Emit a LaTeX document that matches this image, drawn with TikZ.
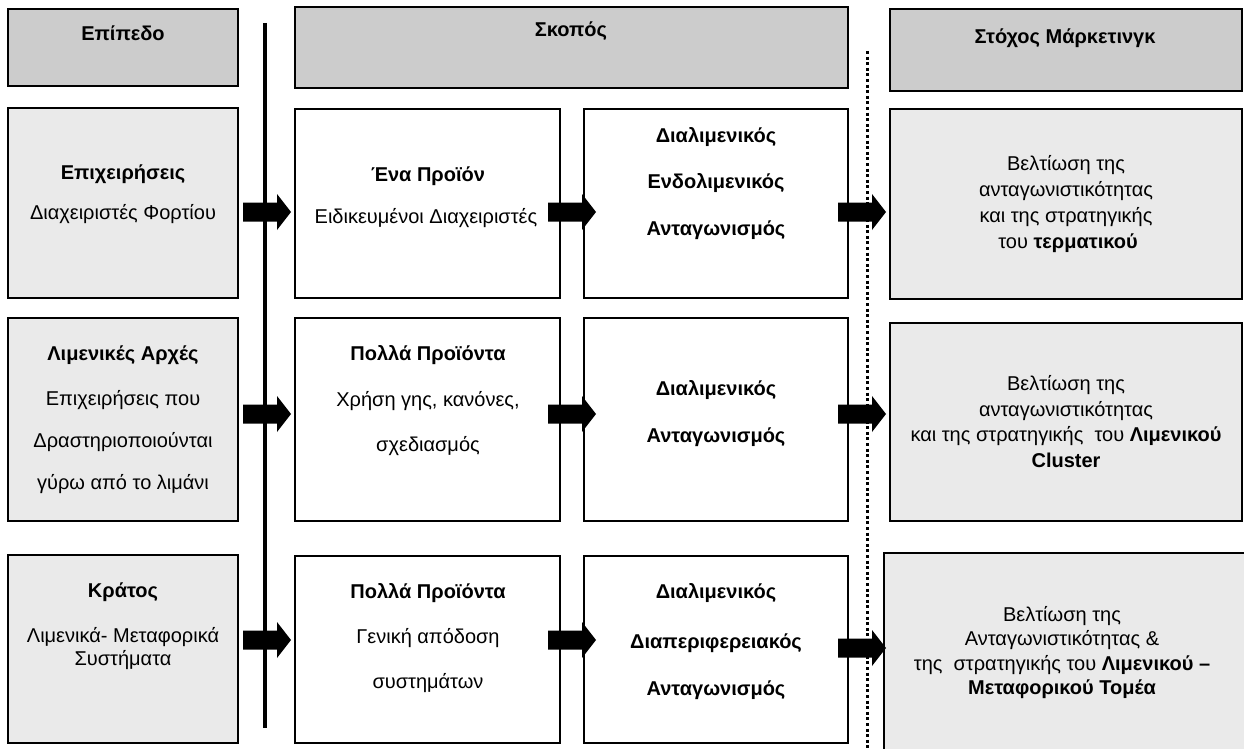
\documentclass[tikz,border=0pt]{standalone}
\usepackage{fontspec}
\setmainfont{Liberation Sans}
\definecolor{headgray}{HTML}{CCCCCC}
\definecolor{panelgray}{HTML}{EAEAEA}
\tikzset{
  x=1pt, y=-1pt,
  panel/.style={draw=black, line width=1.8pt, inner sep=0pt, outer sep=0pt},
  headbox/.style={panel, fill=headgray},
  greybox/.style={panel, fill=panelgray},
  whitebox/.style={panel, fill=white},
  txt/.style={inner sep=0pt, font=\fontsize{20}{23}\selectfont},
  btxt/.style={txt, font=\fontsize{20}{23}\selectfont\bfseries},
  divider/.style={line width=3.2pt},
  dotdivider/.style={line width=3pt, dash pattern=on 3pt off 2.6pt},
  pics/blockarrow/.style={code={
    \fill[black] (-24,-9.5) -- (10,-9.5) -- (10,-18) -- (24,0) -- (10,18)
                 -- (10,9.5) -- (-24,9.5) -- cycle;}}
}
% \panel{name}{style}{x1}{y1}{x2}{y2}
\newcommand\panel[6]{%
  \node[#2, minimum width={(#5-#3)*1pt}, minimum height={(#6-#4)*1pt}]
    (#1) at ({(#3+#5)/2},{(#4+#6)/2}) {};}
\begin{document}
\begin{tikzpicture}
\useasboundingbox (0,0) rectangle (1244,749);

% header row
\panel{hlevel}{headbox}{8}{9}{238}{86}
\panel{haim}{headbox}{295}{7}{848}{88}
\panel{hgoal}{headbox}{890}{9}{1242}{91}
\node[btxt] (thlevel) at (123,33) {Επίπεδο};
\node[btxt] (thaim) at (571,31) {Σκοπός};
\node[btxt] (thgoal) at (1065,38) {Στόχος Μάρκετινγκ};

% first row
\panel{lvA}{greybox}{8}{108}{238}{298}
\panel{prA}{whitebox}{295}{109}{560}{298}
\panel{coA}{whitebox}{584}{109}{848}{298}
\panel{goA}{greybox}{890}{109}{1242}{299}
\node[btxt] (tA1) at (123,174) {Επιχειρήσεις};
\node[txt]  (tA2) at (123,214) {Διαχειριστές Φορτίου};
\node[btxt] (tA3) at (428,176) {Ένα Προϊόν};
\node[txt]  (tA4) at (426,218) {Ειδικευμένοι Διαχειριστές};
\node[btxt] (tA5) at (716,137) {Διαλιμενικός};
\node[btxt] (tA6) at (716,183) {Ενδολιμενικός};
\node[btxt] (tA7) at (716,230) {Ανταγωνισμός};
\node[txt]  (tA8) at (1066,165) {Βελτίωση της};
\node[txt]  (tA9) at (1066,191) {ανταγωνιστικότητας};
\node[txt]  (tA10) at (1066,217) {και της στρατηγικής};
\node[txt]  (tA11) at (1068,243) {του \textbf{τερματικού}};

% second row
\panel{lvB}{greybox}{8}{318}{238}{521}
\panel{prB}{whitebox}{295}{318}{560}{521}
\panel{coB}{whitebox}{584}{318}{848}{521}
\panel{goB}{greybox}{890}{323}{1242}{521}
\node[btxt] (tB1) at (123,355) {Λιμενικές Αρχές};
\node[txt]  (tB2) at (123,400) {Επιχειρήσεις που};
\node[txt]  (tB3) at (123,442) {Δραστηριοποιούνται};
\node[txt]  (tB4) at (123,484) {γύρω από το λιμάνι};
\node[btxt] (tB5) at (428,355) {Πολλά Προϊόντα};
\node[txt]  (tB6) at (428,401) {Χρήση γης, κανόνες,};
\node[txt]  (tB7) at (428,446) {σχεδιασμός};
\node[btxt] (tB8) at (716,390) {Διαλιμενικός};
\node[btxt] (tB9) at (716,437) {Ανταγωνισμός};
\node[txt]  (tB10) at (1066,385) {Βελτίωση της};
\node[txt]  (tB11) at (1066,411) {ανταγωνιστικότητας};
\node[txt]  (tB12) at (1066,436) {και της στρατηγικής\ \ του \textbf{Λιμενικού}};
\node[btxt] (tB13) at (1066,460) {Cluster};

% third row
\panel{lvC}{greybox}{8}{555}{238}{743}
\panel{prC}{whitebox}{295}{556}{560}{743}
\panel{coC}{whitebox}{584}{556}{848}{743}
\panel{goC}{greybox}{884}{553}{1250}{760}
\node[btxt] (tC1) at (123,592) {Κράτος};
\node[txt]  (tC2) at (123,637) {Λιμενικά- Μεταφορικά};
\node[txt]  (tC3) at (123,660) {Συστήματα};
\node[btxt] (tC4) at (428,593) {Πολλά Προϊόντα};
\node[txt]  (tC5) at (428,638) {Γενική απόδοση};
\node[txt]  (tC6) at (428,683) {συστημάτων};
\node[btxt] (tC7) at (716,593) {Διαλιμενικός};
\node[btxt] (tC8) at (716,643) {Διαπεριφερειακός};
\node[btxt] (tC9) at (716,690) {Ανταγωνισμός};
\node[txt]  (tC10) at (1062,616) {Βελτίωση της};
\node[txt]  (tC11) at (1062,640) {Ανταγωνιστικότητας \&};
\node[txt]  (tC12) at (1062,665) {της\ \ στρατηγικής του \textbf{Λιμενικού –}};
\node[btxt] (tC13) at (1062,689) {Μεταφορικού Τομέα};

% dividers
\coordinate (divtop) at (265,23);
\coordinate (divbot) at (265,728);
\draw[divider] (divtop) -- (divbot);
\coordinate (dottop) at (867,51);
\coordinate (dotbot) at (867,749);
\draw[dotdivider] (dottop) -- (dotbot);

% block arrows between the columns
\pic at (267,212) {blockarrow};
\pic at (572,212) {blockarrow};
\pic at (862,212) {blockarrow};
\pic at (267,414) {blockarrow};
\pic at (572,414) {blockarrow};
\pic at (862,414) {blockarrow};
\pic at (267,640) {blockarrow};
\pic at (572,640) {blockarrow};
\pic at (862,648) {blockarrow};
\end{tikzpicture}
\end{document}
